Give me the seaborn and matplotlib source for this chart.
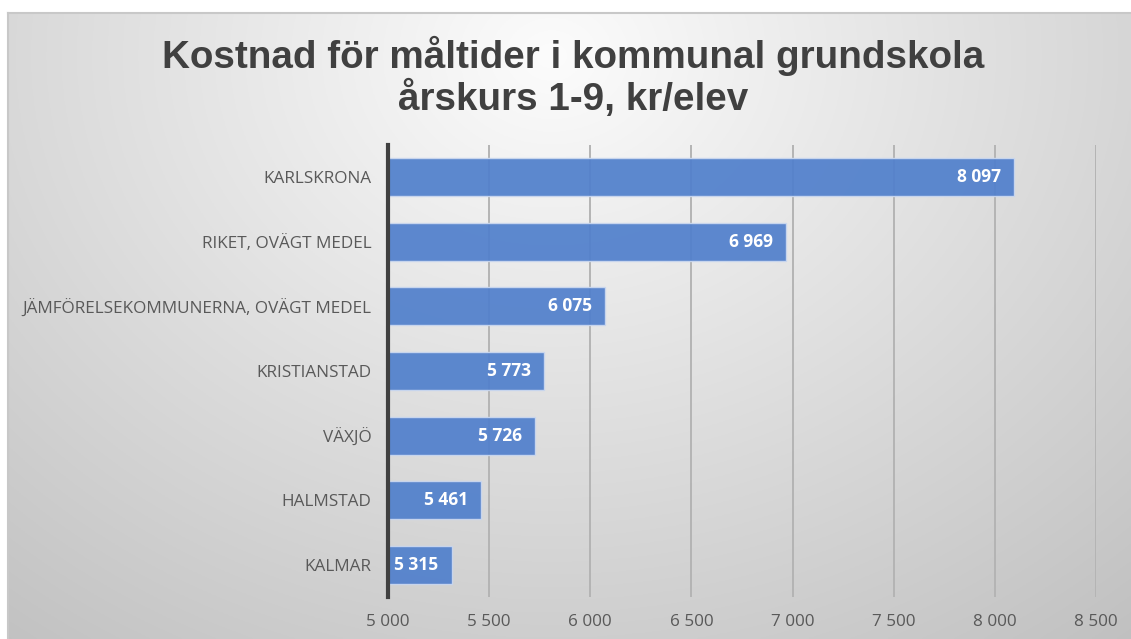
import numpy as np
import pandas as pd
import matplotlib
matplotlib.use("Agg")
import matplotlib.pyplot as plt
import seaborn as sns

categories = ["KARLSKRONA", "RIKET, OVÄGT MEDEL", "JÄMFÖRELSEKOMMUNERNA, OVÄGT MEDEL",
              "KRISTIANSTAD", "VÄXJÖ", "HALMSTAD", "KALMAR"]
values = [8097, 6969, 6075, 5773, 5726, 5461, 5315]
xticks = [5000, 5500, 6000, 6500, 7000, 7500, 8000, 8500]
title = "Kostnad för måltider i kommunal grundskola\nårskurs 1-9, kr/elev"

def fmt(v):
    return f"{v:,}".replace(",", " ")

df = pd.DataFrame({"cat": categories, "val": values})

sns.set_theme(style="white")
plt.rcParams['font.family'] = ['Open Sans', 'DejaVu Sans']

W, H = 1131, 639
fig = plt.figure(figsize=(W / 100, H / 100), dpi=100)
fig.patch.set_facecolor("white")

# background radial gradient panel
x0 = 8 / W
bg = fig.add_axes([x0, 0, 1 - x0, 1 - 13 / H], zorder=-10)
yy, xx = np.mgrid[0:300, 0:600]
cx, cy = 290, 20
r = np.sqrt(((xx - cx) / 540.0) ** 2 + ((yy - cy) / 400.0) ** 2)
vals = np.clip(252 - 66 * r, 190, 252) / 255.0
img = np.dstack([vals, vals, vals])
bg.imshow(img, aspect="auto", extent=[0, 1, 0, 1], origin="upper")
bg.set_xlim(0, 1); bg.set_ylim(0, 1)
bg.set_xticks([]); bg.set_yticks([])
for s in ["top", "left"]:
    bg.spines[s].set_visible(True)
    bg.spines[s].set_color("#c8c8c8")
    bg.spines[s].set_linewidth(1.5)
for s in ["right", "bottom"]:
    bg.spines[s].set_visible(False)

ax = fig.add_axes([388 / W, 1 - 597 / H, (1096 - 388) / W, (597 - 145) / H])
ax.patch.set_alpha(0)
sns.barplot(data=df, x="val", y="cat", orient="h", color="#5180cc", saturation=1,
            width=0.59, ax=ax, edgecolor="#cbd8ef", linewidth=1, alpha=0.93, zorder=3)
ax.set_xlim(5000, 8500)
ax.set_ylim(6.5, -0.5)
ax.set_xticks(xticks)
ax.set_xticklabels([fmt(t) for t in xticks])
ax.tick_params(axis="x", length=0, pad=12, labelsize=12.3, labelcolor="#595959")
ax.tick_params(axis="y", length=0, pad=12, labelsize=12.3, labelcolor="#595959")
ax.set_xlabel(""); ax.set_ylabel("")
ax.grid(axis="x", color="#b4b4b4", linewidth=1.4, zorder=0)
ax.set_axisbelow(True)
for s in ["top", "right", "bottom"]:
    ax.spines[s].set_visible(False)
ax.spines["left"].set_color("#404040")
ax.spines["left"].set_linewidth(3)
ax.spines["left"].set_zorder(5)

for i, v in enumerate(values):
    ax.text(v - 65, i, fmt(v), ha="right", va="center", color="white",
            fontsize=12.5, fontweight="bold", zorder=6)

fig.text(0.507, 1 - 77 / H, title, ha="center", va="center", fontsize=27.8,
         fontweight="bold", color="#404040", family=["Liberation Sans", "DejaVu Sans"],
         linespacing=1.12)

fig.savefig("out.png", dpi=100)
